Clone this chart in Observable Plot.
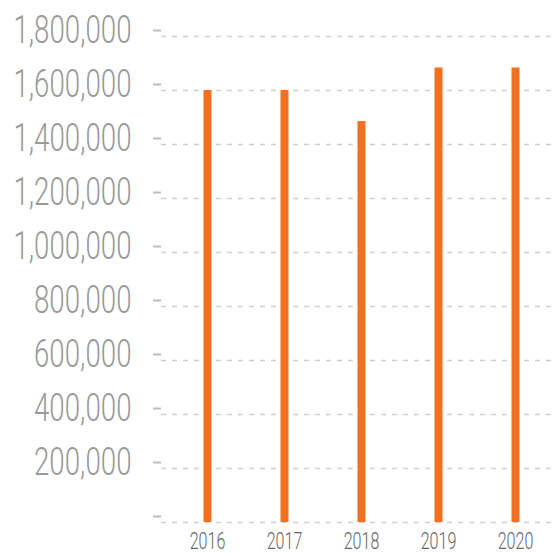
<!DOCTYPE html>
<html>
<head>
<meta charset="utf-8">
<script src="https://cdn.jsdelivr.net/npm/d3@7"></script>
<script src="https://cdn.jsdelivr.net/npm/@observablehq/plot@0.6"></script>
<style>
  html, body { margin: 0; padding: 0; background: #fff; }
</style>
</head>
<body>
<div id="chart"></div>
<script>
const years = ["2016", "2017", "2018", "2019", "2020"];
const values = [1600000, 1600000, 1485000, 1683000, 1683000];
const yTicks = [0, 200000, 400000, 600000, 800000, 1000000, 1200000, 1400000, 1600000, 1800000];

const data = years.map((y, i) => ({year: y, value: values[i]}));
const fmt = d3.format(",");

const chart = Plot.plot({
  width: 556,
  height: 554,
  marginLeft: 161,
  marginRight: 0,
  marginTop: 36,
  marginBottom: 32,
  style: {background: "#fff", fontFamily: "Roboto, 'Liberation Sans', sans-serif", fontWeight: 300, overflow: "visible"},
  x: {type: "point", domain: years, padding: 0, insetLeft: 45, insetRight: 41},
  y: {domain: [0, 1800000]},
  marks: [
    Plot.ruleY(yTicks, {stroke: "#cfcfcf", strokeWidth: 1.5, strokeDasharray: "5,6"}),
    Plot.axisY(yTicks, {
      tickSize: 8, tickPadding: 22, stroke: "#bdbdbd", strokeWidth: 2,
      tickFormat: d => d === 0 ? "" : fmt(d),
      fontSize: 39, fill: "#999", dy: -6, label: null
    }),
    Plot.axisX(years, {
      tickSize: 0, tickPadding: 9, fontSize: 24, fill: "#666", label: null
    }),
    Plot.ruleX(data, {x: "year", y1: 0, y2: "value", stroke: "#F37021", strokeWidth: 8})
  ]
});
document.getElementById("chart").appendChild(chart);

// condense the label glyphs to match the narrow face of the reference
function condense(sel, k) {
  d3.select(chart).selectAll(sel).each(function() {
    const w = this.getComputedTextLength();
    if (w > 0) {
      this.setAttribute("textLength", (w * k).toFixed(1));
      this.setAttribute("lengthAdjust", "spacingAndGlyphs");
    }
  });
}
condense("g[aria-label='y-axis tick label'] text", 0.71);
condense("g[aria-label='x-axis tick label'] text", 0.67);
</script>
</body>
</html>
